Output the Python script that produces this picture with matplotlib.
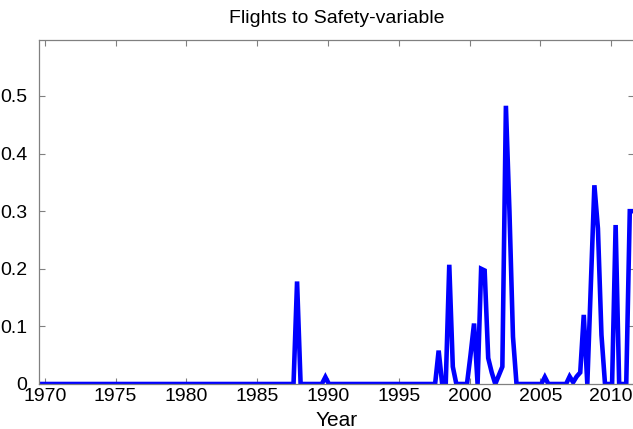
import numpy as np
import matplotlib
matplotlib.use("Agg")
import matplotlib.pyplot as plt

plt.rcParams["font.family"] = ["Liberation Sans", "DejaVu Sans"]

# quarterly observations, first one at 1969.57
start_year = 1969.57
values = [
    0, 0, 0, 0, 0, 0, 0, 0, 0, 0, 0, 0, 0, 0, 0, 0,          # 1969-1973
    0, 0, 0, 0, 0, 0, 0, 0, 0, 0, 0, 0, 0, 0, 0, 0,          # 1973-1977
    0, 0, 0, 0, 0, 0, 0, 0, 0, 0, 0, 0, 0, 0, 0, 0,          # 1977-1981
    0, 0, 0, 0, 0, 0, 0, 0, 0, 0, 0, 0, 0, 0, 0, 0,          # 1981-1985
    0, 0, 0, 0, 0, 0, 0, 0, 0, 0.178, 0, 0, 0, 0, 0, 0,      # 1985-1989
    0, 0.012, 0, 0, 0, 0, 0, 0, 0, 0, 0, 0, 0, 0, 0, 0,      # 1989-1993
    0, 0, 0, 0, 0, 0, 0, 0, 0, 0, 0, 0, 0, 0, 0, 0,          # 1993-1997
    0, 0.058, 0, 0, 0.207, 0.03, 0, 0, 0, 0, 0.05, 0.105,    # 1997-2000
    0, 0.2, 0.197, 0.045, 0.02, 0, 0.015, 0.03,              # 2000-2002
    0.483, 0.30, 0.082, 0, 0, 0, 0, 0,                       # 2002-2004
    0, 0, 0, 0.012, 0, 0, 0, 0,                              # 2004-2006
    0, 0, 0.013, 0.003, 0.013, 0.02, 0.12, 0,                # 2006-2008
    0.17, 0.345, 0.27, 0.085, 0, 0, 0, 0.276,                # 2008-2010
    0, 0, 0, 0.30, 0.30,                                     # 2010-2011
]
dates = start_year + 0.25 * np.arange(len(values))

x_ticks = [1970, 1975, 1980, 1985, 1990, 1995, 2000, 2005, 2010]
y_ticks = [0, 0.1, 0.2, 0.3, 0.4, 0.5]
y_labels = ["0", "0.1", "0.2", "0.3", "0.4", "0.5"]

fig = plt.figure(figsize=(6.33, 4.29), dpi=100)
ax = fig.add_axes([0.0611, 0.1049, 0.9412, 0.8030])

ax.plot(dates, values, color="#0000ff", linewidth=3.3, solid_joinstyle="miter")

ax.set_xlim(1969.57, 2011.65)
ax.set_ylim(0, 0.598)
ax.set_xticks(x_ticks)
ax.set_yticks(y_ticks)
ax.set_yticklabels(y_labels)

for s in ax.spines.values():
    s.set_color("#808080")
    s.set_linewidth(0.9)
ax.tick_params(direction="in", length=4, width=0.8, color="#808080",
               top=True, right=True, labelsize=14, labelcolor="black")
ax.tick_params(axis="x", pad=3)
ax.tick_params(axis="y", pad=8)

ax.set_title("Flights to Safety-variable", fontsize=14, pad=12)
ax.set_xlabel("Year", fontsize=15, labelpad=4)

fig.savefig("out.png", dpi=100)
